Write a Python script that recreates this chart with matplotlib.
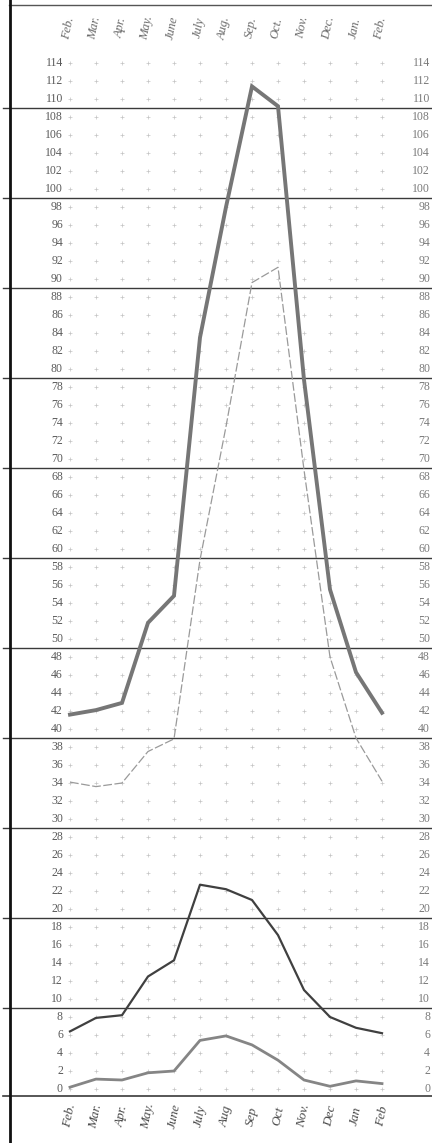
import numpy as np
import matplotlib
matplotlib.use("Agg")
import matplotlib.pyplot as plt

# months along the chart (Feb to Feb)
meses_arriba = ["Feb.", "Mar.", "Apr.", "May.", "June", "July", "Aug.", "Sep.",
                "Oct.", "Nov.", "Dec.", "Jan.", "Feb."]
meses_abajo = ["Feb.", "Mar.", "Apr.", "May.", "June", "July", "Aug", "Sep",
               "Oct", "Nov.", "Dec", "Jan", "Feb"]

# series
serie_gruesa = [41.6, 42.1, 42.9, 51.8, 54.8, 83.5, 98.0, 111.4, 109.2, 78.8, 55.5, 46.3, 41.8]
serie_punteada = [34.1, 33.6, 34.0, 37.5, 38.9, 58.8, 73.6, 89.6, 91.3, 68.8, 48.0, 39.0, 34.2]
serie_oscura = [6.4, 7.9, 8.2, 12.5, 14.3, 22.7, 22.2, 21.0, 17.1, 11.0, 8.0, 6.8, 6.2]
serie_baja = [0.2, 1.1, 1.0, 1.8, 2.0, 5.4, 5.9, 4.9, 3.2, 1.0, 0.3, 0.9, 0.6]

etiquetas_y = list(range(0, 115, 2))
lineas_h = list(range(9, 110, 10))

x = np.arange(len(meses_arriba))

fig = plt.figure(figsize=(4.32, 11.43), dpi=100)
ax = fig.add_axes([0, 0, 1, 1])
ax.set_xlim(-2.692, 13.923)
ax.set_ylim(-6.0, 121.0)
ax.axis("off")

fuente = ["Liberation Serif", "DejaVu Serif"]
gris_texto = "#5a5a5a"

# faint crosses of the printed grid
xx, yy = np.meshgrid(x, etiquetas_y)
ax.plot(xx.ravel(), yy.ravel(), linestyle="None", marker="+", markersize=3,
        markeredgewidth=0.5, color="#c4c4c4", zorder=1)

# heavy horizontal rules every ten units
for v in lineas_h:
    ax.axhline(v, xmin=0.008, xmax=1, color="#3a3a3a", linewidth=1.0, zorder=2)
ax.axhline(-0.78, xmin=0.008, xmax=1, color="#3a3a3a", linewidth=1.2, zorder=2)
ax.axhline(120.44, xmin=0.02, xmax=1, color="#555555", linewidth=1.0, zorder=2)

# left border
ax.axvline(-2.308, color="#111111", linewidth=2.0, zorder=3)

# value labels on both sides
for v in etiquetas_y:
    ax.text(-0.27, v, str(v), ha="right", va="center", fontsize=8.5,
            family=fuente, color=gris_texto)
    ax.text(13.85, v, str(v), ha="right", va="center", fontsize=8.5,
            family=fuente, color="#7a7a7a")

# month labels top and bottom
for i, m in enumerate(meses_arriba):
    ax.text(i - 0.05, 117.9, m, rotation=78, ha="center", va="center",
            fontsize=9, fontstyle="italic", family=fuente, color="#6a6a6a")
for i, m in enumerate(meses_abajo):
    ax.text(i, -3.0, m, rotation=78, ha="center", va="center",
            fontsize=9.5, fontstyle="italic", family=fuente, color="#4a4a4a")

# curves
ax.plot(x, serie_gruesa, color="#767676", linewidth=2.8, zorder=5,
        solid_joinstyle="miter")
ax.plot(x, serie_punteada, color="#9a9a9a", linewidth=0.9, zorder=4,
        linestyle=(0, (7, 2)))
ax.plot(x, serie_oscura, color="#404040", linewidth=1.6, zorder=5)
ax.plot(x, serie_baja, color="#858585", linewidth=2.0, zorder=5)

fig.savefig("out.png", dpi=100)
